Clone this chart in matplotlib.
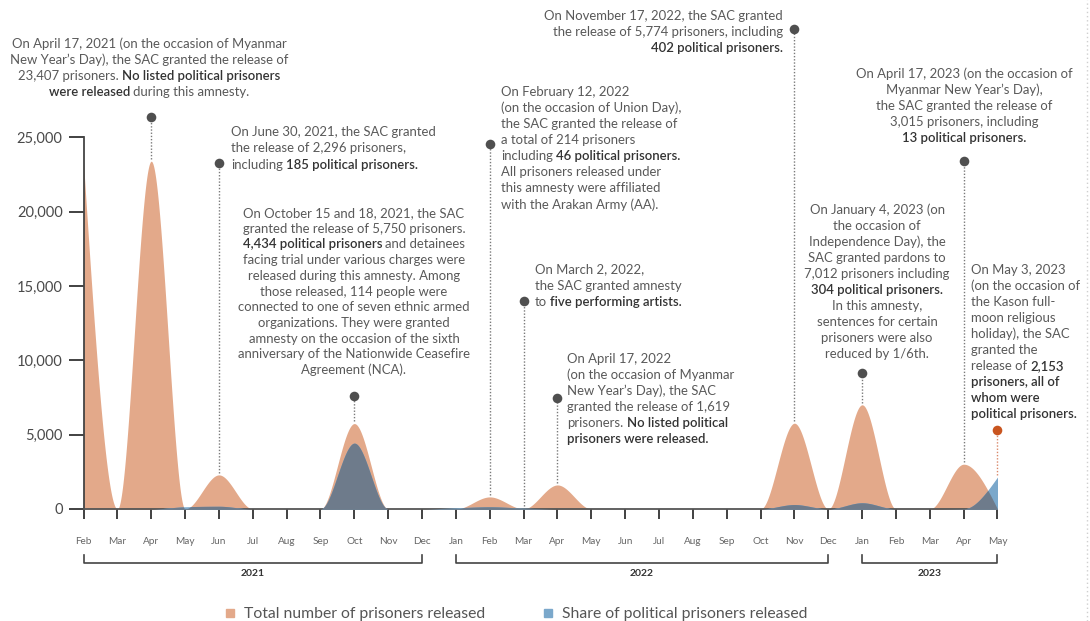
import matplotlib.pyplot as plt
import numpy as np
from matplotlib.lines import Line2D

W, H = 1090, 621

months = ['Feb', 'Mar', 'Apr', 'May', 'Jun', 'Jul', 'Aug', 'Sep', 'Oct', 'Nov', 'Dec',
          'Jan', 'Feb', 'Mar', 'Apr', 'May', 'Jun', 'Jul', 'Aug', 'Sep', 'Oct', 'Nov', 'Dec',
          'Jan', 'Feb', 'Mar', 'Apr', 'May']
total = [23314, 0, 23407, 0, 2296, 0, 0, 0, 5750, 0, 0,
         0, 814, 5, 1619, 0, 0, 0, 0, 0, 0, 5774, 0,
         7012, 0, 0, 3015, 0]
political = [0, 0, 0, 150, 185, 0, 0, 0, 4434, 0, 0,
             80, 150, 60, 0, 0, 0, 0, 0, 0, 0, 300, 0,
             420, 0, 0, 13, 2153]
years = ['2021', '2022', '2023']
year_first = [0, 11, 23]
year_last = [10, 22, 27]

# events: month index, height of the marker dot (data units)
event_month = [2, 4, 8, 12, 13, 14, 21, 23, 26, 27]
event_dot = [26400, 23300, 7600, 24550, 14000, 7450, 32300, 9150, 23450, 5300]

# note blocks: lines (** marks bold), x px, first line centre px, step px, alignment
notes = [
    (["On April 17, 2021 (on the occasion of Myanmar",
      "New Year\u2019s Day), the SAC granted the release of",
      "23,407 prisoners. **No listed political prisoners**",
      "**were released** during this amnesty."], 149, 44, 16, 'center'),
    (["On June 30, 2021, the SAC granted",
      "the release of 2,296 prisoners,",
      "including **185 political prisoners.**"], 231, 132, 16.3, 'left'),
    (["On October 15 and 18, 2021, the SAC",
      "granted the release of 5,750 prisoners.",
      "**4,434 political prisoners** and detainees",
      "facing trial under various charges were",
      "released during this amnesty. Among",
      "those released, 114 people were",
      "connected to one of seven ethnic armed",
      "organizations. They were granted",
      "amnesty on the occasion of the sixth",
      "anniversary of the Nationwide Ceasefire",
      "Agreement (NCA)."], 354, 213, 15.7, 'center'),
    (["On February 12, 2022",
      "(on the occasion of Union Day),",
      "the SAC granted the release of",
      "a total of 214 prisoners",
      "including **46 political prisoners.**",
      "All prisoners released under",
      "this amnesty were affiliated",
      "with the Arakan Army (AA)."], 501, 92.5, 16, 'left'),
    (["On November 17, 2022, the SAC granted",
      "the release of 5,774 prisoners, including",
      "**402 political prisoners.**"], 783, 16, 16, 'right'),
    (["On March 2, 2022,",
      "the SAC granted amnesty",
      "to **five performing artists.**"], 535, 269.5, 16, 'left'),
    (["On April 17, 2022",
      "(on the occasion of Myanmar",
      "New Year\u2019s Day), the SAC",
      "granted the release of 1,619",
      "prisoners. **No listed political**",
      "**prisoners were released.**"], 567, 359, 16, 'left'),
    (["On April 17, 2023 (on the occasion of",
      "Myanmar New Year\u2019s Day),",
      "the SAC granted the release of",
      "3,015 prisoners, including",
      "**13 political prisoners.**"], 964, 74, 16, 'center'),
    (["On January 4, 2023 (on",
      "the occasion of",
      "Independence Day), the",
      "SAC granted pardons to",
      "7,012 prisoners including",
      "**304 political prisoners.**",
      "In this amnesty,",
      "sentences for certain",
      "prisoners were also",
      "reduced by 1/6th."], 877, 210, 16, 'center'),
    (["On May 3, 2023",
      "(on the occasion of",
      "the Kason full-",
      "moon religious",
      "holiday), the SAC",
      "granted the",
      "release of **2,153**",
      "**prisoners, all of**",
      "**whom were**",
      "**political prisoners.**"], 971, 270, 16, 'left'),
]

ORANGE = '#e3a98a'
BLUE = '#7ba8cb'
OVERLAP = '#6e7b8b'
FONT = 'Lato'


def monotone(values, steps=60):
    """Monotone cubic curve through monthly values (like d3 curveMonotoneX)."""
    y = np.asarray(values, float)
    s = np.diff(y)
    m = np.zeros_like(y)
    for i in range(1, len(y) - 1):
        s0, s1 = s[i - 1], s[i]
        p = (s0 + s1) / 2
        m[i] = (np.sign(s0) + np.sign(s1)) * min(abs(s0), abs(s1), 0.5 * abs(p))
    m[0] = (3 * s[0] - m[1]) / 2
    m[-1] = (3 * s[-1] - m[-2]) / 2
    xs, ys = [], []
    t = np.linspace(0, 1, steps, endpoint=False)
    for i in range(len(y) - 1):
        h00 = 2 * t**3 - 3 * t**2 + 1
        h10 = t**3 - 2 * t**2 + t
        h01 = -2 * t**3 + 3 * t**2
        h11 = t**3 - t**2
        xs.append(i + t)
        ys.append(h00 * y[i] + h10 * m[i] + h01 * y[i + 1] + h11 * m[i + 1])
    xs.append([len(y) - 1])
    ys.append([y[-1]])
    return np.concatenate(xs), np.clip(np.concatenate(ys), 0, None)


def rich_text(fig, lines, x, y, step, align, size=9.45):
    renderer = fig.canvas.get_renderer()
    probe = fig.text(0, 0, 'x x', fontsize=size, family=FONT)
    probe2 = fig.text(0, 0, 'xx', fontsize=size, family=FONT)
    space = probe.get_window_extent(renderer).width - probe2.get_window_extent(renderer).width
    probe.remove()
    probe2.remove()
    for k, line in enumerate(lines):
        base = H - (y + k * step + 4)
        items = []
        for j, part in enumerate(line.split('**')):
            if not part:
                continue
            bold = j % 2 == 1
            lead = len(part) - len(part.lstrip(' '))
            trail = len(part) - len(part.rstrip(' '))
            t = fig.text(0, 0, part.strip(' '), fontsize=size, family=FONT,
                         fontweight='semibold' if bold else 'normal',
                         color='#333333' if bold else '#595959',
                         ha='left', va='baseline')
            w = t.get_window_extent(renderer).width
            items.append((t, lead * space, w, trail * space))
        width = sum(a + b + c for _, a, b, c in items)
        if align == 'center':
            cx = x - width / 2
        elif align == 'right':
            cx = x - width
        else:
            cx = x
        for t, a, b, c in items:
            cx += a
            t.set_position((cx / W, base / H))
            cx += b + c


fig = plt.figure(figsize=(W / 100, H / 100), dpi=100)
x0, x1, y_zero = 83.5, 997.5, 509
px_per_unit = 371.5 / 25000
ax = fig.add_axes([x0 / W, (H - y_zero) / H, (x1 - x0) / W, y_zero / H])
ax.set_xlim(0, len(months) - 1)
ax.set_ylim(0, y_zero / px_per_unit)

xs, tot_s = monotone(total)
_, pol_s = monotone(political)
ax.fill_between(xs, 0, tot_s, color=ORANGE, lw=0, zorder=2)
ax.fill_between(xs, 0, pol_s, color=BLUE, lw=0, zorder=3)
ax.fill_between(xs, 0, np.minimum(tot_s, pol_s), color=OVERLAP, lw=0, zorder=4)

# event markers
for idx, top in zip(event_month, event_dot):
    last = idx == len(months) - 1
    col = '#c9551f' if last else '#4f4f4f'
    lcol = '#d9886a' if last else '#7a7a7a'
    peak = max(total[idx], political[idx])
    ax.plot([idx, idx], [peak + 150, top], color=lcol, lw=1,
            linestyle=(0, (1, 1.3)), zorder=5, clip_on=False)
    ax.scatter([idx], [top], s=48, color=col, zorder=6, clip_on=False, lw=0)

for side in ['top', 'right']:
    ax.spines[side].set_visible(False)
ax.spines['left'].set_bounds(0, 25000)
ax.spines['left'].set_color('#444444')
ax.spines['bottom'].set_color('#555555')
ax.spines['left'].set_linewidth(1.3)
ax.spines['bottom'].set_linewidth(1.3)
ax.set_yticks(range(0, 25001, 5000))
ax.set_yticklabels([f'{v:,}' for v in range(0, 25001, 5000)])
ax.set_xticks(range(len(months)))
ax.set_xticklabels(months)
ax.tick_params(axis='y', length=11, width=1.3, color='#333333', labelsize=10.5,
               labelcolor='#4a4a4a', pad=4)
ax.tick_params(axis='x', length=7, width=1.3, color='#333333', labelsize=7.2,
               labelcolor='#666666', pad=13)
for lab in ax.get_xticklabels() + ax.get_yticklabels():
    lab.set_family(FONT)
ax.set_facecolor('none')

# year brackets
tr = ax.get_xaxis_transform()
yb = -(563 - y_zero) / y_zero
yt = -(555 - y_zero) / y_zero
yl = -(574 - y_zero) / y_zero
for name, a, b in zip(years, year_first, year_last):
    ax.plot([a, a, b, b], [yt, yb, yb, yt], transform=tr, color='#444444', lw=1.2,
            clip_on=False)
    ax.text((a + b) / 2, yl, name, transform=tr, ha='center', va='center',
            fontsize=7.5, fontweight='bold', color='#333333', family=FONT)

for lines, x, y, step, align in notes:
    rich_text(fig, lines, x, y, step, align)

# faint dotted page edge on the right
fig.add_artist(Line2D([1087 / W, 1087 / W], [0, 1], color='#cfcfcf', lw=1,
                      linestyle=(0, (1, 2))))

handles = [Line2D([], [], marker='s', color=ORANGE, lw=0, markersize=6),
           Line2D([], [], marker='s', color=BLUE, lw=0, markersize=6)]
fig.legend(handles, ['Total number of prisoners released', 'Share of political prisoners released'],
           loc='center', bbox_to_anchor=(516 / W, (H - 614) / H), ncol=2, frameon=False,
           prop={'family': FONT, 'size': 11.3}, labelcolor='#555555',
           handlelength=0.6, handletextpad=0.6, columnspacing=3.7, borderpad=0)

fig.savefig('out.png', dpi=100)
